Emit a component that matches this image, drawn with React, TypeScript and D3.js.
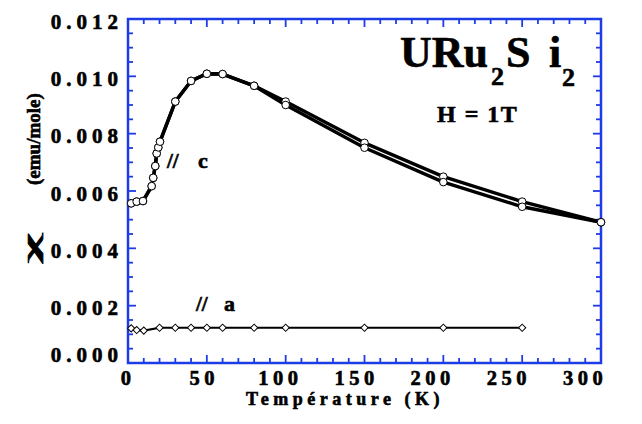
import React from 'react';
import * as d3 from 'd3';

const tempsC = [2, 5.5, 9.5, 15, 16, 17.3, 18.2, 19.2, 20.3, 30, 40, 50, 60, 80, 100, 150, 200, 250, 300];
const chiCUpper = [0.00557, 0.00563, 0.00565, 0.00617, 0.00646, 0.00687, 0.00731, 0.00752, 0.00772, 0.00912, 0.00984, 0.01009, 0.01008, 0.00967, 0.00912, 0.00768, 0.0065, 0.00563, 0.00491];
const chiCLower = [0.00557, 0.00563, 0.00565, 0.00617, 0.00646, 0.00687, 0.00731, 0.00752, 0.00772, 0.00912, 0.00984, 0.01009, 0.01008, 0.00967, 0.009, 0.00751, 0.00631, 0.00545, 0.00491];
const tempsA = [2, 5.5, 10, 20, 30, 40, 50, 60, 80, 100, 150, 200, 250];
const chiA = [0.00121, 0.00115, 0.00113, 0.00123, 0.00123, 0.00123, 0.00123, 0.00123, 0.00123, 0.00123, 0.00123, 0.00123, 0.00123];
const xTickLabels = [0, 50, 100, 150, 200, 250, 300];
const yTickLabels = [0, 0.002, 0.004, 0.006, 0.008, 0.01, 0.012];

const BLUE = '#1e3ce6';
const FONT = '"Liberation Serif", "Times New Roman", serif';

export default function App() {
  const W = 642, H = 424;
  const x = d3.scaleLinear().domain([0, 300]).range([128, 601]);
  const y = d3.scaleLinear().domain([0, 0.012]).range([363, 19]);
  const xLabel = d3.scaleLinear().domain([0, 300]).range([128, 585]);

  const line = d3.line<[number, number]>().x(d => x(d[0])).y(d => y(d[1]));
  const cU = tempsC.map((t, i) => [t, chiCUpper[i]] as [number, number]);
  const cL = tempsC.map((t, i) => [t, chiCLower[i]] as [number, number]);
  const aPts = tempsA.map((t, i) => [t, chiA[i]] as [number, number]);
  const diamond = d3.symbol().type(d3.symbolSquare).size(26)();

  const xMinor = d3.range(0, 301, 10);
  const yMinor = d3.range(0, 25).map(i => i * 0.0005);
  const [x0, x1] = x.range();
  const [y0, y1] = y.range();
  const heavy = { stroke: '#000', strokeWidth: 0.6 };

  return (
    <svg width={W} height={H} style={{ position: 'absolute', left: 0, top: 0, background: '#fff' }} fontFamily={FONT} fontWeight="bold">
      {/* ticks */}
      <g stroke={BLUE} strokeWidth={1.8}>
        {xMinor.map(t => {
          const len = t % 50 === 0 ? 8 : 5;
          return (
            <g key={'xt' + t}>
              <line x1={x(t)} x2={x(t)} y1={y0} y2={y0 - len} />
              <line x1={x(t)} x2={x(t)} y1={y1} y2={y1 + len} />
            </g>
          );
        })}
        {yMinor.map((v, i) => {
          const len = i % 4 === 0 ? 8 : 5;
          return (
            <g key={'yt' + i}>
              <line x1={x0} x2={x0 + len} y1={y(v)} y2={y(v)} />
              <line x1={x1} x2={x1 - len} y1={y(v)} y2={y(v)} />
            </g>
          );
        })}
      </g>
      <rect x={x0} y={y1} width={x1 - x0} height={y0 - y1} fill="none" stroke={BLUE} strokeWidth={2.5} />

      {/* tick labels */}
      {xTickLabels.map(t => (
        <text key={'xl' + t} x={xLabel(t)} y={385} fontSize={20.5} letterSpacing={4.5} textAnchor="middle" {...heavy}>{t}</text>
      ))}
      {yTickLabels.map(v => (
        <text key={'yl' + v} x={123} y={y(v) + (v === 0 ? -1 : 9.5)} fontSize={21} letterSpacing={5} textAnchor="end" {...heavy}>{v.toFixed(3)}</text>
      ))}

      {/* axis titles */}
      <text x={345} y={405} fontSize={18} letterSpacing={4.5} textAnchor="middle" {...heavy}>Température  (K)</text>
      <text transform="translate(38,263) rotate(-90)" fontSize={22} textLength={29} lengthAdjust="spacingAndGlyphs" {...heavy}>χ</text>
      <text transform="translate(40,185) rotate(-90)" fontSize={19} {...heavy}>(emu/mole)</text>

      {/* series */}
      <path d={line(cU) || ''} fill="none" stroke="#000" strokeWidth={3.4} strokeLinejoin="round" />
      <path d={line(cL) || ''} fill="none" stroke="#000" strokeWidth={3.4} strokeLinejoin="round" />
      <path d={line(aPts) || ''} fill="none" stroke="#000" strokeWidth={2.2} />
      {cU.map((d, i) => (
        <circle key={'cu' + i} cx={x(d[0])} cy={y(d[1])} r={3.8} fill="#fff" stroke="#000" strokeWidth={1} />
      ))}
      {cL.map((d, i) => (
        <circle key={'cl' + i} cx={x(d[0])} cy={y(d[1])} r={3.8} fill="#fff" stroke="#000" strokeWidth={1} />
      ))}
      {aPts.map((d, i) => (
        <path key={'a' + i} d={diamond || ''} transform={`translate(${x(d[0])},${y(d[1])}) rotate(45)`} fill="#fff" stroke="#000" strokeWidth={1} />
      ))}

      {/* annotations */}
      <text x={167} y={168} fontSize={21} {...heavy}>//</text>
      <text x={198} y={168} fontSize={22} {...heavy}>c</text>
      <text x={196} y={311} fontSize={21} {...heavy}>//</text>
      <text x={224} y={311} fontSize={22} {...heavy}>a</text>

      <text x={400} y={67} fontSize={44} {...heavy}>URu</text>
      <text x={491} y={85} fontSize={26} {...heavy}>2</text>
      <text x={506} y={67} fontSize={44} {...heavy}>S</text>
      <text x={549} y={67} fontSize={44} {...heavy}>i</text>
      <text x={562} y={86} fontSize={26} {...heavy}>2</text>
      <text x={437} y={122} fontSize={24} letterSpacing={1.5} {...heavy}>H = 1T</text>
    </svg>
  );
}
